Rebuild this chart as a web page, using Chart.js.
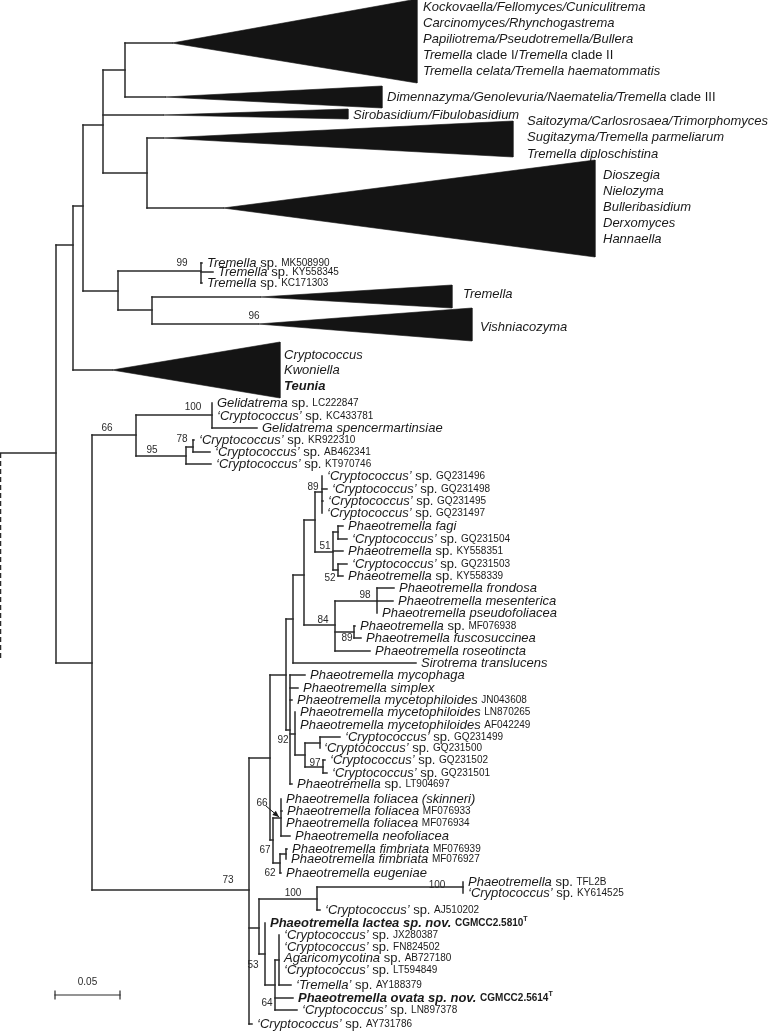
<!DOCTYPE html>
<html><head><meta charset="utf-8">
<script src="https://cdn.jsdelivr.net/npm/chart.js@4"></script>
<style>html,body{margin:0;padding:0;background:#fff}canvas{display:block}</style>
</head><body>
<canvas id="c" width="773" height="1032"></canvas>
<script>
// ---------- DATA ----------
// tree units: x = cumulative branch length (65 units = 0.05 subst./site), y = row position
// internal nodes: [id, parent, depth, row]
const internalNodes = [
 ["root", null, 0, 453],
 ["A","root",56,453],
 ["B","A",73,245],
 ["C","B",83,206],
 ["D","C",103,125],
 ["E","D",125,70],
 ["F","D",147,173],
 ["G","C",118,291],
 ["H","G",201,271],
 ["I","G",152,310],
 ["J","A",92,663],
 ["K","J",136,435],
 ["L","K",212,415],
 ["M","K",186,456],
 ["N","M",193,447],
 ["O","J",249,890],
 ["P","O",270,758],
 ["Q","P",286,675],
 ["S","Q",293,619],
 ["U","S",304,575],
 ["V","U",315,520],
 ["W","V",322,492],
 ["X","V",333,552],
 ["X1","X",338,532],
 ["X2","X",338,570],
 ["Y","U",335,625],
 ["Y1","Y",377,601],
 ["Y2","Y",354,632],
 ["Z","Q",290,730],
 ["Z1","Z",295,734],
 ["Z2","Z1",305,755],
 ["Z3","Z2",320,743],
 ["Z4","Z2",323,767],
 ["AA","P",273,840],
 ["AB","AA",281,818],
 ["AC","AA",280,863],
 ["AD","AC",286,854],
 ["AE","O",259,928],
 ["AG","AE",317,899],
 ["AH","AG",463,887],
 ["AF","AE",265,954],
 ["AI","AF",275,985],
 ["AJ","AI",279,960]
];
// outgroup (truncated, dashed): [parent, depth, row]
const outgroup = ["root", 0, 658];

// terminal taxa: [parent, depth, row, label]
const leaves = [
 ["H",202,263,"i:Tremella|n: sp. |s:MK508990"],
 ["H",213,272,"i:Tremella|n: sp. |s:KY558345"],
 ["H",202,283,"i:Tremella|n: sp. |s:KC171303"],
 ["L",212,403,"i:Gelidatrema|n: sp. |s:LC222847"],
 ["L",212,416,"i:‘Cryptococcus’|n: sp. |s:KC433781"],
 ["L",257,428,"i:Gelidatrema spencermartinsiae"],
 ["N",194,440,"i:‘Cryptococcus’|n: sp. |s:KR922310"],
 ["N",210,452,"i:‘Cryptococcus’|n: sp. |s:AB462341"],
 ["M",211,464,"i:‘Cryptococcus’|n: sp. |s:KT970746"],
 ["W",322,476,"i:‘Cryptococcus’|n: sp. |s:GQ231496"],
 ["W",327,489,"i:‘Cryptococcus’|n: sp. |s:GQ231498"],
 ["W",323,501,"i:‘Cryptococcus’|n: sp. |s:GQ231495"],
 ["W",322,513,"i:‘Cryptococcus’|n: sp. |s:GQ231497"],
 ["X1",343,526,"i:Phaeotremella fagi"],
 ["X1",347,539,"i:‘Cryptococcus’|n: sp. |s:GQ231504"],
 ["X",343,551,"i:Phaeotremella|n: sp. |s:KY558351"],
 ["X2",347,564,"i:‘Cryptococcus’|n: sp. |s:GQ231503"],
 ["X2",343,576,"i:Phaeotremella|n: sp. |s:KY558339"],
 ["Y1",394,588,"i:Phaeotremella frondosa"],
 ["Y1",393,601,"i:Phaeotremella mesenterica"],
 ["Y1",377,613,"i:Phaeotremella pseudofoliacea"],
 ["Y2",355,626,"i:Phaeotremella|n: sp. |s:MF076938"],
 ["Y2",361,638,"i:Phaeotremella fuscosuccinea"],
 ["Y",370,651,"i:Phaeotremella roseotincta"],
 ["S",416,663,"i:Sirotrema translucens"],
 ["Z",305,675,"i:Phaeotremella mycophaga"],
 ["Z",298,688,"i:Phaeotremella simplex"],
 ["Z",292,700,"i:Phaeotremella mycetophiloides|n: |s:JN043608"],
 ["Z1",295,712,"i:Phaeotremella mycetophiloides|n: |s:LN870265"],
 ["Z1",295,725,"i:Phaeotremella mycetophiloides|n: |s:AF042249"],
 ["Z3",340,737,"i:‘Cryptococcus’|n: sp. |s:GQ231499"],
 ["Z3",319,748,"i:‘Cryptococcus’|n: sp. |s:GQ231500"],
 ["Z4",325,760,"i:‘Cryptococcus’|n: sp. |s:GQ231502"],
 ["Z4",327,773,"i:‘Cryptococcus’|n: sp. |s:GQ231501"],
 ["Z",292,784,"i:Phaeotremella|n: sp. |s:LT904697"],
 ["AB",281,799,"i:Phaeotremella foliacea (skinneri)"],
 ["AB",282,811,"i:Phaeotremella foliacea|n: |s:MF076933"],
 ["AB",281,823,"i:Phaeotremella foliacea|n: |s:MF076934"],
 ["AB",290,836,"i:Phaeotremella neofoliacea"],
 ["AD",287,849,"i:Phaeotremella fimbriata|n: |s:MF076939"],
 ["AD",286,859,"i:Phaeotremella fimbriata|n: |s:MF076927"],
 ["AC",281,873,"i:Phaeotremella eugeniae"],
 ["AH",463,882,"i:Phaeotremella|n: sp. |s:TFL2B"],
 ["AH",463,893,"i:‘Cryptococcus’|n: sp. |s:KY614525"],
 ["AG",320,910,"i:‘Cryptococcus’|n: sp. |s:AJ510202"],
 ["AF",265,923,"b:Phaeotremella lactea sp. nov.|n: |B:CGMCC2.5810|T:T"],
 ["AJ",279,935,"i:‘Cryptococcus’|n: sp. |s:JX280387"],
 ["AJ",279,947,"i:‘Cryptococcus’|n: sp. |s:FN824502"],
 ["AJ",279,958,"i:Agaricomycotina|n: sp. |s:AB727180"],
 ["AJ",279,970,"i:‘Cryptococcus’|n: sp. |s:LT594849"],
 ["AJ",291,985,"i:‘Tremella’|n: sp. |s:AY188379"],
 ["AI",293,998,"b:Phaeotremella ovata sp. nov.|n: |B:CGMCC2.5614|T:T"],
 ["AI",297,1010,"i:‘Cryptococcus’|n: sp. |s:LN897378"],
 ["O",252,1024,"i:‘Cryptococcus’|n: sp. |s:AY731786"]
];

// collapsed clades: [parent, apexDepth, apexRow, tipDepth, topRow, bottomRow]
const cladeTriangles = [
 ["E",172,43,417,-1,83],
 ["E",165,97,382,86,108],
 ["D",163,115,348,109,119],
 ["F",163,138,513,121,157],
 ["F",223,208,595,160,257],
 ["I",260,297,452,285,308],
 ["I",258,324,472,308,341],
 ["B",112,370,280,342,398]
];
// clade names (one list per triangle above) with label anchor [depth, firstRow, rowStep]
const cladeNames = [
 ["i:Kockovaella/Fellomyces/Cuniculitrema","i:Carcinomyces/Rhynchogastrema","i:Papiliotrema/Pseudotremella/Bullera","i:Tremella|n: clade I/|i:Tremella|n: clade II","i:Tremella celata/Tremella haematommatis"],
 ["i:Dimennazyma/Genolevuria/Naematelia/Tremella|n: clade III"],
 ["i:Sirobasidium/Fibulobasidium"],
 ["i:Saitozyma/Carlosrosaea/Trimorphomyces","i:Sugitazyma/Tremella parmeliarum","i:Tremella diploschistina"],
 ["i:Dioszegia","i:Nielozyma","i:Bulleribasidium","i:Derxomyces","i:Hannaella"],
 ["i:Tremella"],
 ["i:Vishniacozyma"],
 ["i:Cryptococcus","i:Kwoniella","b:Teunia"]
];
const cladeLabelAnchors = [
 [423,7,16.2],[387,97,0],[353,115,0],[527,121,16.5],[603,175,16],[463,294,0],[480,327,0],[284,355,15.5]
];

// bootstrap support: [node, value, labelDepth, labelRow]
const supports = [
 ["H","99",182,263],["I","96",254,316],["K","66",107,428],["L","100",193,407],
 ["M","95",152,450],["N","78",182,439],["W","89",313,487],["X","51",325,546],
 ["X2","52",330,578],["Y1","98",365,595],["Y","84",323,620],["Y2","89",347,638],
 ["Z","92",283,740],["Z4","97",315,763],["AB","66",262,803],["AA","67",265,850],
 ["AC","62",270,873],["O","73",228,880],["AG","100",293,893],["AH","100",437,885],
 ["AF","53",253,965],["AI","64",267,1003]
];
// scale bar: [startDepth, row, length in tree units, label]
const scaleBar = [55, 995, 65, "0.05"];

// ---------- BUILD ----------
const FF = '"Liberation Sans", Arial, Helvetica, sans-serif';
const LINE = '#2a2a2a';
const nodes = {};
internalNodes.forEach(([id,p,x,y]) => nodes[id] = {id,p,x,y,kids:[]});
internalNodes.forEach(([id,p,x,y]) => { if (p) nodes[p].kids.push(y); });
leaves.forEach(([p,x,y]) => nodes[p].kids.push(y));
cladeTriangles.forEach(([p,ax,ay]) => nodes[p].kids.push(ay));

const datasets = [];
function seg(pts, extra) {
  datasets.push(Object.assign({
    data: pts.map(([x,y]) => ({x,y})), showLine: true, fill: false,
    borderColor: LINE, borderWidth: 1.5, pointRadius: 0, borderCapStyle: 'square'
  }, extra || {}));
}
// horizontal branches of internal nodes and verticals
internalNodes.forEach(([id,p,x,y]) => {
  const n = nodes[id];
  if (p) seg([[nodes[p].x, y],[x, y]]);
  if (id !== 'root') {
    seg([[x, Math.min(...n.kids)],[x, Math.max(...n.kids)]]);
  }
});
// root vertical (dashed, truncated to outgroup)
seg([[nodes[outgroup[0]].x, nodes.A.y],[outgroup[1], outgroup[2]]], {borderDash:[5,3], borderWidth:2.5, borderCapStyle:'butt'});
// leaves
leaves.forEach(([p,x,y]) => { if (x > nodes[p].x) seg([[nodes[p].x, y],[x, y]]); });
// clades
cladeTriangles.forEach(([p,ax,ay,tx,top,bot]) => {
  seg([[nodes[p].x, ay],[ax, ay]]);
  seg([[ax,ay],[tx,top],[tx,bot],[ax,ay]], {fill:'shape', backgroundColor:'#141414', borderColor:'#141414', borderWidth:0.6, borderCapStyle:'butt'});
});
// scale bar
const [sbx, sby, sbl] = scaleBar;
seg([[sbx, sby],[sbx+sbl, sby]], {borderWidth:1.2});
seg([[sbx, sby-4],[sbx, sby+4]], {borderWidth:1.2});
seg([[sbx+sbl, sby-4],[sbx+sbl, sby+4]], {borderWidth:1.2});

function drawRich(ctx, spec, x, y) {
  let cx = x;
  spec.split('|').forEach(p => {
    const k = p[0], t = p.slice(2);
    let font, dy = 0;
    if (k === 'i') font = 'italic 13px ' + FF;
    else if (k === 'n') font = '13px ' + FF;
    else if (k === 's') font = '10px ' + FF;
    else if (k === 'b') font = 'italic bold 13px ' + FF;
    else if (k === 'B') font = 'bold 10px ' + FF;
    else if (k === 'T') { font = 'bold 7px ' + FF; dy = -3.5; }
    ctx.font = font;
    ctx.fillText(t, cx, y + dy);
    cx += ctx.measureText(t).width;
  });
}

const textPlugin = {
  id: 'treeText',
  afterDatasetsDraw(chart) {
    const {ctx, scales:{x: xs, y: ys}} = chart;
    ctx.save();
    ctx.fillStyle = '#1a1a1a';
    ctx.textBaseline = 'middle';
    ctx.textAlign = 'left';
    leaves.forEach(([p,x,y,lab]) => drawRich(ctx, lab, xs.getPixelForValue(x) + 5, ys.getPixelForValue(y)));
    cladeNames.forEach((lines, i) => {
      const [lx, ly, st] = cladeLabelAnchors[i];
      lines.forEach((l, j) => drawRich(ctx, l, xs.getPixelForValue(lx), ys.getPixelForValue(ly + j*st)));
    });
    ctx.font = '10px ' + FF;
    ctx.textAlign = 'center';
    ctx.fillStyle = '#2a2a2a';
    supports.forEach(([n,v,lx,ly]) => ctx.fillText(v, xs.getPixelForValue(lx), ys.getPixelForValue(ly)));
    // arrow for the 66 label on the foliacea node
    const ab = nodes.AB, s66 = supports.find(s => s[0]==='AB');
    const x0 = xs.getPixelForValue(s66[2]+4), y0 = ys.getPixelForValue(s66[3]+3);
    const x1 = xs.getPixelForValue(ab.x-2), y1 = ys.getPixelForValue(ab.y-1);
    ctx.strokeStyle = '#1a1a1a'; ctx.lineWidth = 1;
    ctx.beginPath(); ctx.moveTo(x0,y0); ctx.lineTo(x1,y1); ctx.stroke();
    const ang = Math.atan2(y1-y0, x1-x0), L = 7;
    ctx.beginPath(); ctx.moveTo(x1,y1);
    ctx.lineTo(x1 - L*Math.cos(ang-0.4), y1 - L*Math.sin(ang-0.4));
    ctx.lineTo(x1 - L*Math.cos(ang+0.4), y1 - L*Math.sin(ang+0.4));
    ctx.closePath(); ctx.fillStyle = '#1a1a1a'; ctx.fill();
    // scale bar label
    ctx.fillStyle = '#2a2a2a';
    ctx.fillText(scaleBar[3], xs.getPixelForValue(sbx + sbl/2), ys.getPixelForValue(sby - 13));
    ctx.restore();
  }
};

new Chart(document.getElementById('c'), {
  type: 'scatter',
  data: { datasets },
  options: {
    responsive: false, animation: false, events: [],
    layout: { padding: 0 },
    plugins: { legend: { display: false }, tooltip: { enabled: false } },
    scales: {
      x: { type: 'linear', min: 0, max: 773, display: false },
      y: { type: 'linear', min: 0, max: 1032, reverse: true, display: false }
    },
    elements: { point: { radius: 0 }, line: { tension: 0 } }
  },
  plugins: [textPlugin]
});
</script>
</body></html>
